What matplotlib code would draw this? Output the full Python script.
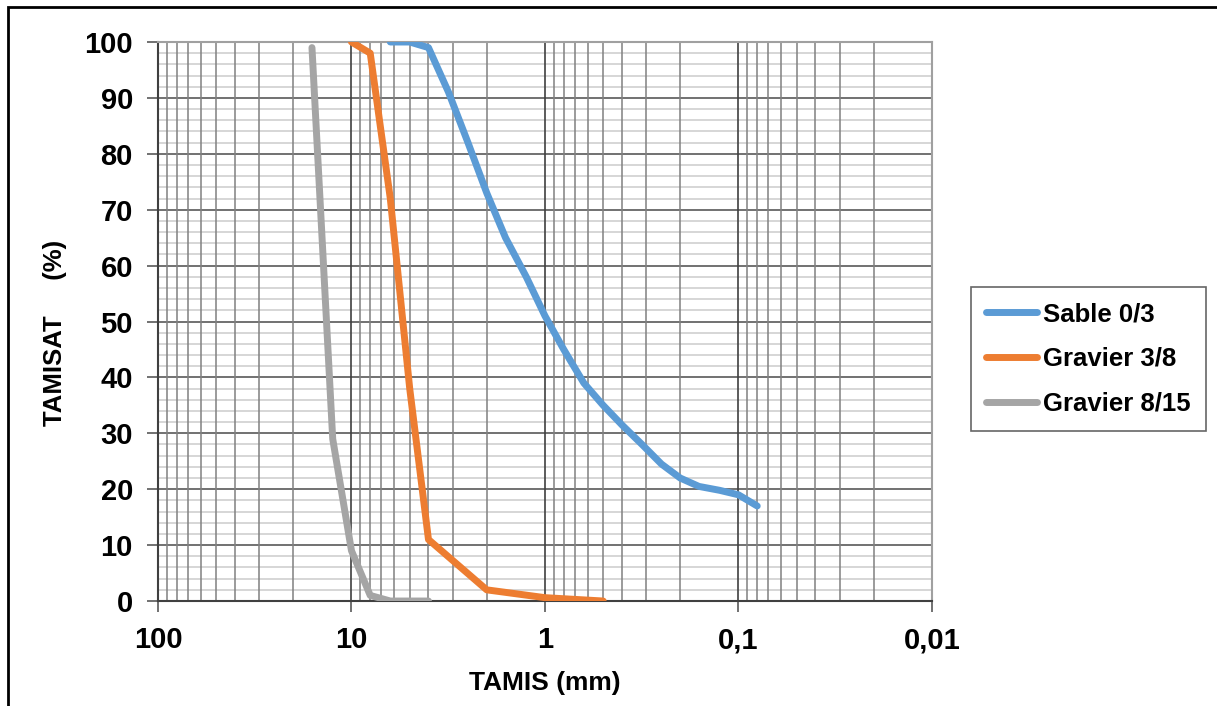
import matplotlib.pyplot as plt
import matplotlib.patches as mpatches
from matplotlib.ticker import FixedLocator, LogLocator, NullFormatter

plt.rcParams['font.family'] = ['Liberation Sans', 'DejaVu Sans']
plt.rcParams['font.weight'] = 'bold'

# ouvertures des tamis (mm) et tamisats cumulés (%)
sable_d = [6.3, 5, 4, 3.15, 2.5, 2, 1.6, 1.25, 1, 0.8, 0.63, 0.5, 0.4, 0.315, 0.25, 0.2, 0.16, 0.125, 0.1, 0.08]
sable_p = [100, 100, 99, 91, 82, 73, 65, 58, 51, 45, 39, 35, 31.5, 28, 24.5, 22, 20.5, 19.8, 19, 17]

g38_d = [10, 8, 6.3, 5, 4, 2, 1, 0.5]
g38_p = [100, 98, 72, 38, 11, 2, 0.6, 0]

g815_d = [16, 12.5, 10, 8, 6.3, 5, 4]
g815_p = [99, 29, 9, 1, 0, 0, 0]

x_ticks = [100, 10, 1, 0.1, 0.01]
x_labels = ['100', '10', '1', '0,1', '0,01']
y_ticks = list(range(0, 101, 10))

fig = plt.figure(figsize=(12.17, 7.06), dpi=100)
ax = fig.add_axes([0.1298, 0.1487, 0.6360, 0.7918])

lw = 5
style = dict(lw=lw, solid_capstyle='round', solid_joinstyle='round', zorder=5)
ax.plot(sable_d, sable_p, color='#5B9BD5', label='Sable 0/3', **style)
ax.plot(g38_d, g38_p, color='#ED7D31', label='Gravier 3/8', **style)
ax.plot(g815_d, g815_p, color='#A5A5A5', label='Gravier 8/15', **style)

ax.set_xscale('log')
ax.set_xlim(100, 0.01)
ax.set_ylim(0, 100)

ax.xaxis.set_major_locator(FixedLocator(x_ticks))
ax.set_xticklabels(x_labels)
ax.xaxis.set_minor_locator(LogLocator(base=10, subs=range(2, 10)))
ax.xaxis.set_minor_formatter(NullFormatter())
ax.yaxis.set_major_locator(FixedLocator(y_ticks))
ax.yaxis.set_minor_locator(FixedLocator(range(0, 101, 2)))

# quadrillage
ax.grid(which='major', axis='y', color='#595959', lw=1.2)
ax.grid(which='minor', axis='y', color='#d0d0d0', lw=1.2)
ax.grid(which='major', axis='x', color='#404040', lw=1.2)
ax.grid(which='minor', axis='x', color='#808080', lw=1.1)
ax.set_axisbelow(True)
ax.yaxis.set_zorder(0.3)
ax.xaxis.set_zorder(0.6)

ax.tick_params(axis='both', which='major', labelsize=21, length=8, width=1.2, color='#595959', pad=10)
ax.tick_params(axis='x', which='minor', length=0)
ax.tick_params(axis='y', which='minor', length=0)
for lab in ax.get_xticklabels() + ax.get_yticklabels():
    lab.set_fontweight('bold')

ax.spines['left'].set_color('#404040')
ax.spines['bottom'].set_color('#404040')
ax.spines['top'].set_color('#a0a0a0')
ax.spines['right'].set_color('#a0a0a0')
for s in ax.spines.values():
    s.set_linewidth(1.5)

ax.set_xlabel('TAMIS (mm)', fontsize=19, fontweight='bold', labelpad=12)
ax.set_ylabel('TAMISAT     (%)', fontsize=18.5, fontweight='bold')
ax.yaxis.set_label_coords(-0.117, 0.48)

leg = ax.legend(loc='center left', bbox_to_anchor=(1.05, 0.433), fontsize=18.5,
                frameon=True, fancybox=False, edgecolor='#404040', handlelength=2.0,
                handletextpad=0.2, labelspacing=0.8, borderpad=0.6, borderaxespad=0)
leg.get_frame().set_linewidth(1.2)
for t in leg.get_texts():
    t.set_fontweight('bold')

# cadre du graphique
fig.patches.append(mpatches.Rectangle((8 / 1217, -1), 2, 1 + (1 - 7 / 706), transform=fig.transFigure,
                                      fill=False, edgecolor='black', lw=2, zorder=10))

fig.savefig('out.png', dpi=100)
